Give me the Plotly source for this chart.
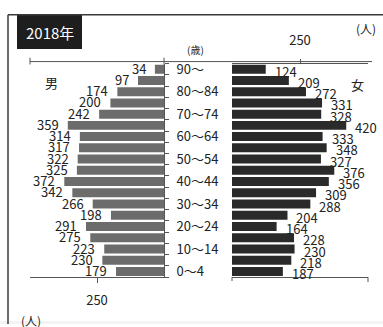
import plotly.graph_objects as go

W, H = 383, 327

# ---- data ----
ages = ["0～4", "5～9", "10～14", "15～19", "20～24", "25～29", "30～34", "35～39",
        "40～44", "45～49", "50～54", "55～59", "60～64", "65～69", "70～74", "75～79",
        "80～84", "85～89", "90～"]
male = [179, 230, 223, 275, 291, 198, 266, 342, 372, 325, 322, 317, 314, 359, 242,
        200, 174, 97, 34]
female = [187, 218, 230, 228, 164, 204, 288, 309, 356, 376, 327, 348, 333, 420, 328,
          331, 272, 209, 124]
age_labels = [a if i % 2 == 0 else "" for i, a in enumerate(ages)]
axis_ticks = [250]
axis_max = 500

FONT = "Noto Sans CJK JP"
TXT = "#222222"


def px_x(x):
    return x / W


def px_y(y):
    return 1 - y / H


fig = go.Figure()
fig.add_trace(go.Bar(x=male, y=ages, orientation="h", xaxis="x", yaxis="y",
                     marker=dict(color="#6c6c6c", line=dict(width=0)), showlegend=False))
fig.add_trace(go.Bar(x=female, y=ages, orientation="h", xaxis="x2", yaxis="y2",
                     marker=dict(color="#2a2a2a", line=dict(width=0)), showlegend=False))

ydom = [px_y(279), px_y(60)]
axcol = "#555555"

annotations = []
for a, v in zip(ages, male):
    annotations.append(dict(x=v, y=a, xref="x", yref="y", text=str(v), showarrow=False,
                            xanchor="right", yanchor="middle", xshift=-7, yshift=1,
                            font=dict(family=FONT, size=13, color=TXT)))
for a, v in zip(ages, female):
    annotations.append(dict(x=v, y=a, xref="x2", yref="y2", text=str(v), showarrow=False,
                            xanchor="left", yanchor="middle", xshift=7, yshift=-2,
                            font=dict(family=FONT, size=13, color=TXT)))


def label(x, y, text, size, color=TXT):
    return dict(x=px_x(x), y=px_y(y), xref="paper", yref="paper", text=text, showarrow=False,
                xanchor="center", yanchor="middle",
                font=dict(family=FONT, size=size, color=color))


# static texts
annotations += [
    label(49.5, 28, "2018年", 15, "white"),
    label(366, 24, "(人)", 12),
    label(195, 46, "(歳)", 10),
    label(51, 79, "男", 13),
    label(357, 81, "女", 13),
    label(31, 323, "(人)", 12),
]

shapes = [
    # frame
    dict(type="line", xref="paper", yref="paper", x0=px_x(8), x1=1, y0=px_y(10), y1=px_y(10),
         line=dict(color="#3a3a3a", width=1.5)),
    dict(type="line", xref="paper", yref="paper", x0=px_x(8), x1=px_x(8), y0=px_y(10), y1=0,
         line=dict(color="#3a3a3a", width=1.5)),
    # faint bottom band
    dict(type="rect", xref="paper", yref="paper", x0=0, x1=1, y0=0, y1=px_y(324),
         fillcolor="#f3f3f3", line=dict(width=0), layer="below"),
    # title box
    dict(type="rect", xref="paper", yref="paper", x0=px_x(17), x1=px_x(82), y0=px_y(45), y1=px_y(10),
         fillcolor="#1e1e1e", line=dict(width=0), layer="below"),
    # top line across
    dict(type="line", xref="paper", yref="paper", x0=px_x(30), x1=px_x(372), y0=px_y(58), y1=px_y(58),
         line=dict(color=axcol, width=1)),
    dict(type="line", xref="paper", yref="paper", x0=px_x(30), x1=px_x(30), y0=px_y(54), y1=px_y(61),
         line=dict(color=axcol, width=1)),
    dict(type="line", xref="paper", yref="paper", x0=px_x(164), x1=px_x(164), y0=px_y(54), y1=px_y(61),
         line=dict(color=axcol, width=1)),
    # female bottom end ticks
    dict(type="line", xref="paper", yref="paper", x0=px_x(232), x1=px_x(232), y0=px_y(279), y1=px_y(283),
         line=dict(color=axcol, width=1)),
    dict(type="line", xref="paper", yref="paper", x0=px_x(368), x1=px_x(368), y0=px_y(279), y1=px_y(284),
         line=dict(color=axcol, width=1)),
]

fig.update_layout(
    width=W, height=H,
    margin=dict(l=0, r=0, t=0, b=0),
    paper_bgcolor="white", plot_bgcolor="rgba(0,0,0,0)",
    bargap=0.2,
    font=dict(family=FONT, color=TXT),
    xaxis=dict(domain=[px_x(30), px_x(164)], range=[axis_max, 0], anchor="y",
               tickmode="array", tickvals=axis_ticks, ticktext=[str(t) for t in axis_ticks],
               ticks="outside", ticklen=5, tickcolor=axcol, ticklabelstandoff=6,
               showline=True, linecolor=axcol, linewidth=1, showgrid=False, zeroline=False,
               tickfont=dict(family=FONT, size=13, color=TXT), fixedrange=True),
    yaxis=dict(domain=ydom, type="category", categoryorder="array", categoryarray=ages,
               anchor="x", side="right", tickmode="array", tickvals=ages, ticktext=age_labels,
               ticks="outside", ticklen=4, tickcolor=axcol, tickson="boundaries",
               ticklabelstandoff=9,
               showline=True, linecolor=axcol, linewidth=1, showgrid=False, zeroline=False,
               tickfont=dict(family=FONT, size=13, color=TXT), range=[-0.5, 18.5]),
    xaxis2=dict(domain=[px_x(232), px_x(368)], range=[0, axis_max], anchor="y2", side="top",
                tickmode="array", tickvals=axis_ticks, ticktext=[str(t) for t in axis_ticks],
                ticks="outside", ticklen=4, tickcolor=axcol, ticklabelstandoff=8,
                showline=True, mirror=True, linecolor=axcol, linewidth=1,
                showgrid=False, zeroline=False,
                tickfont=dict(family=FONT, size=13, color=TXT)),
    yaxis2=dict(domain=ydom, type="category", categoryorder="array", categoryarray=ages,
                anchor="x2", showticklabels=False, ticks="", showline=False, showgrid=False,
                zeroline=False, range=[-0.5, 18.5]),
    annotations=annotations,
    shapes=shapes,
)

fig.write_html("out.html")
